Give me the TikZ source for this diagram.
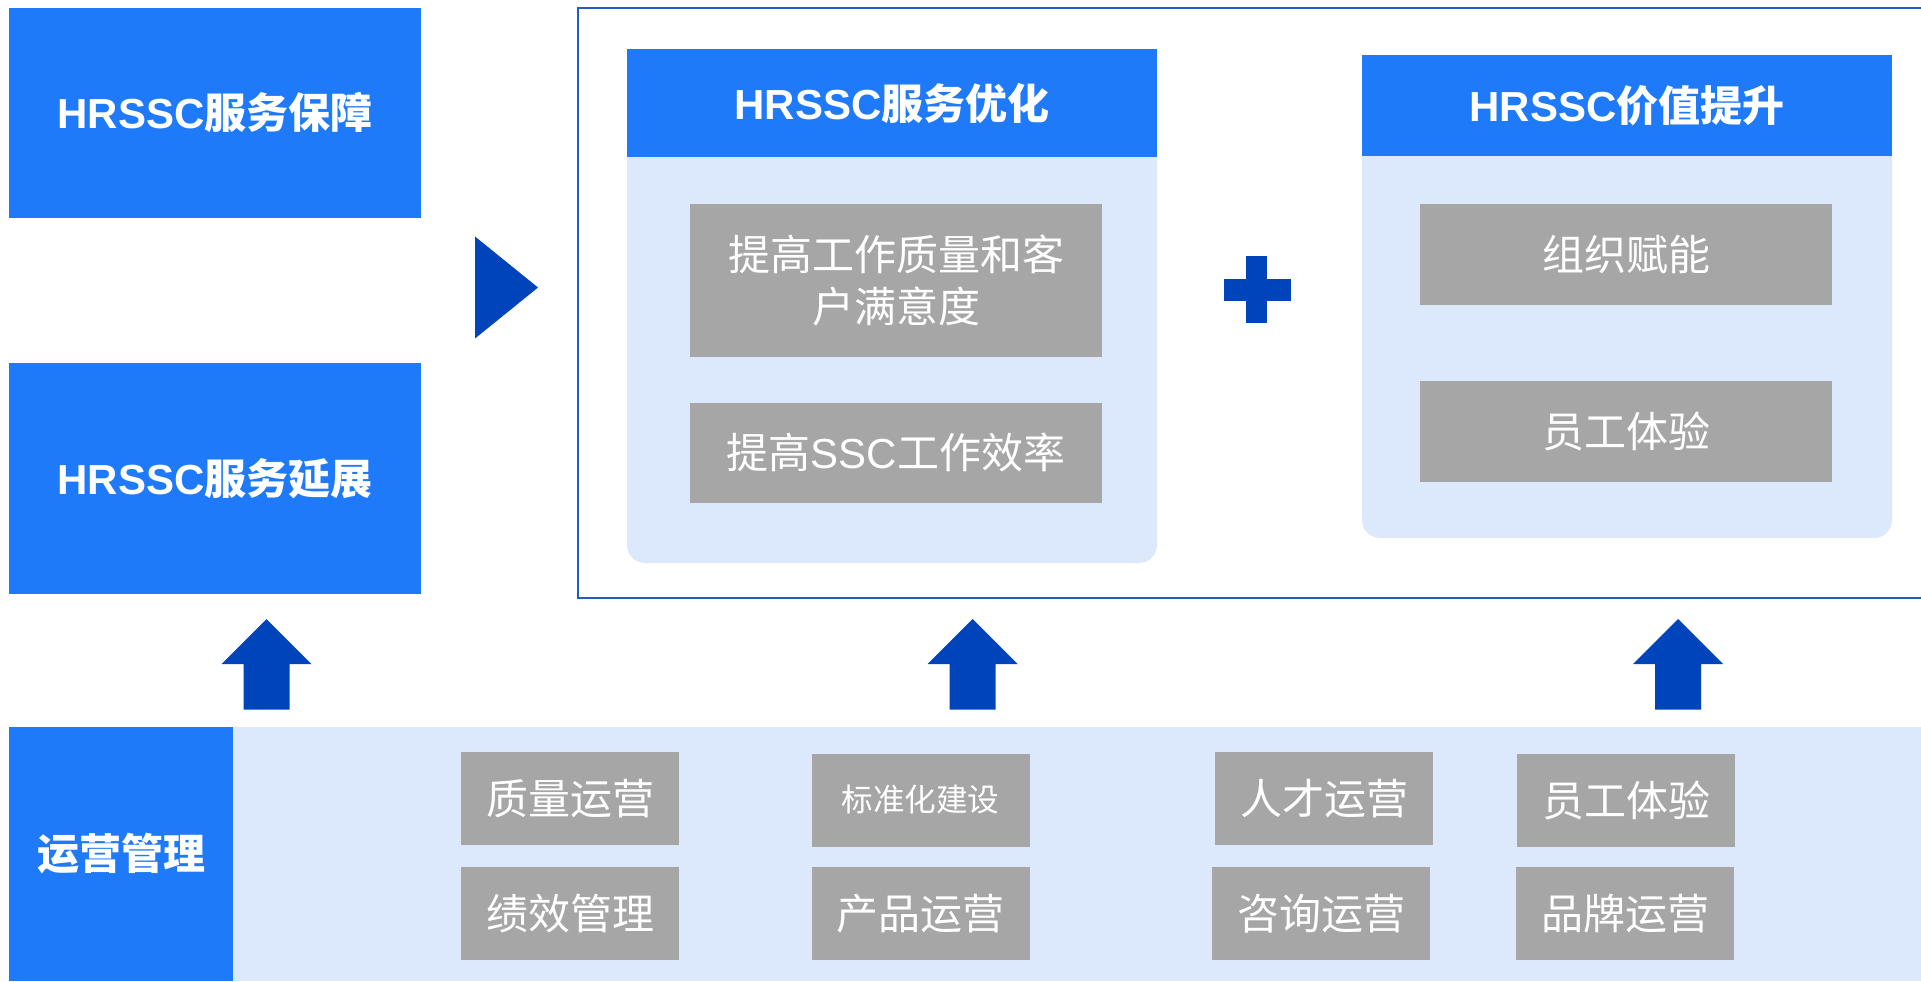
\documentclass[tikz,border=0pt]{standalone}
\usepackage{fontspec}
\newfontfamily\latf{Liberation Sans}
\newfontfamily\cjkf{Noto Sans CJK SC}
\definecolor{hblue}{RGB}{31,122,250}
\definecolor{dblue}{RGB}{0,68,187}
\definecolor{lblue}{RGB}{220,232,251}
\definecolor{gbox}{RGB}{166,166,166}
\definecolor{fblue}{RGB}{32,92,196}
\newcommand\myhb[2]{{\latf\bfseries #1}{\cjkf\bfseries #2}}
\begin{document}
\begin{tikzpicture}[x=0.5pt,y=-0.5pt,
  hdr/.style={fill=hblue, text=white, inner sep=0pt, align=center,
    font=\fontsize{21}{25}\selectfont},
  panel/.style={fill=lblue, rounded corners=9pt, inner sep=0pt, minimum width=265pt},
  gray/.style={fill=gbox, text=white, inner sep=0pt, align=center,
    font=\cjkf\fontsize{21}{26.3}\selectfont},
  sgray/.style={gray, minimum width=109pt, minimum height=46.5pt},
  darkfill/.style={fill=dblue},
  frame/.style={draw=fblue, line width=1.2pt}
]
\useasboundingbox (0,0) rectangle (1921,981);
\fill[white] (0,0) rectangle (1921,981);

% left boxes
\node[hdr, minimum width=206pt, minimum height=104.75pt] (b1) at (215,112.75) {\myhb{HRSSC}{服务保障}};
\node[hdr, minimum width=206pt, minimum height=115.5pt] (b2) at (215,478.5) {\myhb{HRSSC}{服务延展}};

% triangle
\fill[darkfill] (475,236.5) -- (538,287.5) -- (475,338.5) -- cycle;

% frame
\draw[frame] (1925,8) -- (578,8) -- (578,598) -- (1925,598);

% panel 1
\node[panel, minimum height=257pt] (p1) at (892,306) {};
\node[hdr, minimum width=265pt, minimum height=54pt] (h1) at (892,103) {\myhb{HRSSC}{服务优化}};
\node[gray, minimum width=206pt, minimum height=76.5pt] (g1) at (896,280.5) {提高工作质量和客\\户满意度};
\node[gray, minimum width=206pt, minimum height=50.25pt] (g2) at (896,452.75) {提高{\latf SSC}工作效率};

% plus
\fill[darkfill] (1224,279) rectangle (1291,300.5);
\fill[darkfill] (1246,256) rectangle (1267,323);

% panel 2
\node[panel, minimum height=241.5pt] (p2) at (1627,296.5) {};
\node[hdr, minimum width=265pt, minimum height=50.5pt] (h2) at (1627,105.5) {\myhb{HRSSC}{价值提升}};
\node[gray, minimum width=206pt, minimum height=50.25pt] (g3) at (1626,254.25) {组织赋能};
\node[gray, minimum width=206pt, minimum height=50.3pt] (g4) at (1626,431.3) {员工体验};

% up arrows
\foreach \c in {266.5,972.6,1678}{
  \fill[darkfill] (\c-23,709.7) -- (\c-23,664) -- (\c-45,664) -- (\c,619) -- (\c+45,664) -- (\c+23,664) -- (\c+23,709.7) -- cycle;
}

% bottom band
\fill[lblue] (233,727) rectangle (1921,981);
\node[hdr, minimum width=112pt, minimum height=127pt, font=\cjkf\bfseries\fontsize{21}{25}\selectfont] (ops) at (121,854) {运营管理};

\node[sgray] (q1) at (570,798.5) {质量运营};
\node[sgray] (q2) at (570,913.5) {绩效管理};
\node[sgray, font=\cjkf\fontsize{15.8}{19}\selectfont] (q3) at (920.5,800) {标准化建设};
\node[sgray] (q4) at (920.5,913.5) {产品运营};
\node[sgray] (q5) at (1324,798.5) {人才运营};
\node[sgray] (q6) at (1321,913.5) {咨询运营};
\node[sgray] (q7) at (1626,800.5) {员工体验};
\node[sgray] (q8) at (1625,913.5) {品牌运营};
\end{tikzpicture}
\end{document}
